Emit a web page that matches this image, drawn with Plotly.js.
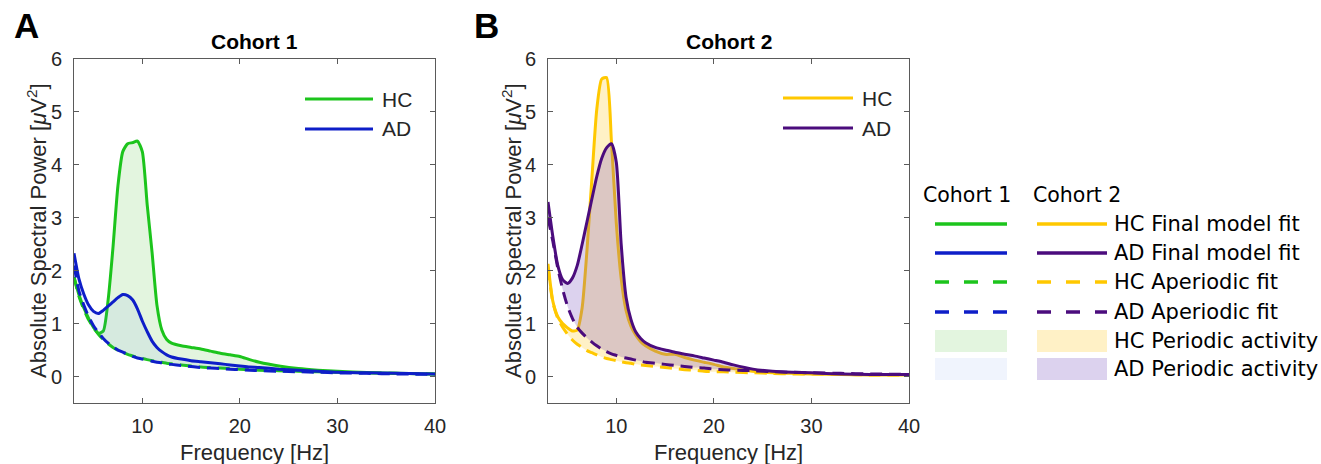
<!DOCTYPE html>
<html>
<head>
<meta charset="utf-8">
<script src="https://cdn.plot.ly/plotly-3.0.1.min.js"></script>
<style>html,body{margin:0;padding:0;background:#fff;}#chart{width:1321px;height:464px;}</style>
</head>
<body>
<div id="chart"></div>
<script>
// ---------------- data ----------------
const freq = [3, 3.5, 4, 4.5, 5, 5.5, 6, 6.5, 7, 7.5, 8, 8.5, 9, 9.5, 10, 10.5, 11, 11.5, 12, 12.5, 13, 14, 15, 16, 17, 18, 19, 20, 21, 22, 24, 26, 28, 30, 33, 36, 40];

// Cohort 1
const c1_HC_final = [1.88, 1.55, 1.30, 1.10, 0.93, 0.82, 0.86, 1.45, 2.45, 3.60, 4.25, 4.40, 4.42, 4.45, 4.25, 3.25, 2.35, 1.35, 0.88, 0.70, 0.63, 0.58, 0.55, 0.52, 0.48, 0.44, 0.41, 0.38, 0.32, 0.27, 0.20, 0.15, 0.12, 0.10, 0.075, 0.06, 0.05];
const c1_AD_final = [2.33, 1.85, 1.56, 1.35, 1.23, 1.19, 1.25, 1.33, 1.41, 1.49, 1.55, 1.53, 1.45, 1.28, 1.05, 0.85, 0.67, 0.55, 0.47, 0.41, 0.37, 0.33, 0.30, 0.28, 0.26, 0.24, 0.22, 0.20, 0.18, 0.17, 0.14, 0.12, 0.10, 0.08, 0.07, 0.06, 0.05];
const c1_HC_aper = [1.88, 1.52, 1.27, 1.07, 0.92, 0.80, 0.70, 0.62, 0.55, 0.50, 0.46, 0.42, 0.39, 0.36, 0.34, 0.32, 0.30, 0.28, 0.27, 0.25, 0.24, 0.22, 0.20, 0.18, 0.17, 0.16, 0.15, 0.14, 0.13, 0.12, 0.11, 0.10, 0.09, 0.08, 0.07, 0.06, 0.05];
const c1_AD_aper = [2.10, 1.62, 1.35, 1.13, 0.96, 0.83, 0.72, 0.63, 0.56, 0.50, 0.46, 0.42, 0.38, 0.35, 0.33, 0.31, 0.29, 0.27, 0.26, 0.24, 0.23, 0.21, 0.19, 0.17, 0.16, 0.15, 0.14, 0.13, 0.12, 0.11, 0.10, 0.09, 0.08, 0.07, 0.06, 0.05, 0.04];

// Cohort 2
const c2_HC_final = [2.13, 1.42, 1.13, 1.00, 0.92, 0.86, 0.88, 1.30, 2.40, 3.75, 5.05, 5.62, 5.65, 4.45, 2.90, 1.85, 1.25, 0.95, 0.78, 0.66, 0.58, 0.48, 0.42, 0.42, 0.36, 0.31, 0.27, 0.23, 0.18, 0.15, 0.10, 0.07, 0.06, 0.05, 0.04, 0.03, 0.03];
const c2_AD_final = [3.30, 2.64, 2.10, 1.83, 1.76, 1.86, 2.10, 2.50, 2.93, 3.36, 3.78, 4.12, 4.32, 4.40, 4.05, 2.50, 1.50, 1.08, 0.84, 0.72, 0.64, 0.55, 0.50, 0.46, 0.42, 0.39, 0.35, 0.31, 0.27, 0.22, 0.14, 0.10, 0.08, 0.07, 0.05, 0.04, 0.04];
const c2_HC_aper = [2.05, 1.40, 1.10, 0.93, 0.80, 0.69, 0.61, 0.55, 0.49, 0.45, 0.41, 0.37, 0.34, 0.32, 0.30, 0.28, 0.26, 0.25, 0.23, 0.22, 0.21, 0.19, 0.17, 0.15, 0.13, 0.12, 0.10, 0.09, 0.09, 0.08, 0.07, 0.06, 0.05, 0.05, 0.04, 0.03, 0.03];
const c2_AD_aper = [3.00, 2.55, 2.05, 1.65, 1.33, 1.10, 0.93, 0.82, 0.73, 0.65, 0.58, 0.52, 0.47, 0.43, 0.40, 0.37, 0.35, 0.33, 0.31, 0.29, 0.27, 0.25, 0.23, 0.21, 0.19, 0.17, 0.16, 0.14, 0.13, 0.12, 0.11, 0.09, 0.08, 0.07, 0.06, 0.05, 0.04];

const xTicks = [10, 20, 30, 40];
const yTicks = [0, 1, 2, 3, 4, 5, 6];
const panelTitles = ["Cohort 1", "Cohort 2"];
const panelLetters = ["A", "B"];
const groupNames = ["HC", "AD"];
const legendItems = ["HC Final model fit", "AD Final model fit", "HC Aperiodic fit", "AD Aperiodic fit", "HC Periodic activity", "AD Periodic activity"];

// ---------------- styles ----------------
const W = 1321, H = 464;
const px = x => x / W;
const py = y => 1 - y / H;

const col = {
  c1HC: "rgb(28,196,28)", c1AD: "rgb(14,30,200)",
  c2HC: "rgb(255,200,0)", c2AD: "rgb(75,12,125)",
  f1HC: "rgba(70,190,40,0.15)", f1AD: "rgba(90,130,230,0.09)",
  f2HC: "rgba(255,205,50,0.28)", f2AD: "rgba(120,80,190,0.26)"
};
const LW = 3;
const DASH = "12px,7px";

function panelTraces(xa, ya, hcAper, hcFinal, adAper, adFinal, cHC, cAD, fHC, fAD) {
  const common = {x: freq, xaxis: xa, yaxis: ya, mode: "lines", showlegend: false, hoverinfo: "skip"};
  return [
    Object.assign({}, common, {y: hcAper, line: {color: cHC, width: LW, dash: DASH, shape: "spline", smoothing: 0.6}}),
    Object.assign({}, common, {y: hcFinal, fill: "tonexty", fillcolor: fHC, line: {color: cHC, width: LW, shape: "spline", smoothing: 0.6}}),
    Object.assign({}, common, {y: adAper, line: {color: cAD, width: LW, dash: DASH, shape: "spline", smoothing: 0.6}}),
    Object.assign({}, common, {y: adFinal, fill: "tonexty", fillcolor: fAD, line: {color: cAD, width: LW, shape: "spline", smoothing: 0.6}})
  ];
}

const data = [].concat(
  panelTraces("x", "y", c1_HC_aper, c1_HC_final, c1_AD_aper, c1_AD_final, col.c1HC, col.c1AD, col.f1HC, col.f1AD),
  panelTraces("x2", "y2", c2_HC_aper, c2_HC_final, c2_AD_aper, c2_AD_final, col.c2HC, col.c2AD, col.f2HC, col.f2AD)
);

const fontFam = "Liberation Sans, Arial, sans-serif";
const axColor = "#5a5a5a";
function xax(domain, anchor) {
  return {domain: domain, anchor: anchor, range: [3, 40], tickvals: xTicks, ticks: "inside", ticklen: 5,
    tickcolor: axColor, showline: true, linecolor: axColor, linewidth: 1, mirror: "ticks", showgrid: false, zeroline: false,
    tickfont: {family: fontFam, size: 20, color: "#262626"}, ticklabelstandoff: 5, fixedrange: true};
}
function yax(domain, anchor) {
  return {domain: domain, anchor: anchor, range: [-0.5, 6], tickvals: yTicks, ticks: "inside", ticklen: 5,
    tickcolor: axColor, showline: true, linecolor: axColor, linewidth: 1, mirror: "ticks", showgrid: false, zeroline: false,
    tickfont: {family: fontFam, size: 20, color: "#262626"}, ticklabelstandoff: 7, fixedrange: true};
}

const yDom = [py(403), py(59)];
const panels = [
  {left: 74, right: 435, ytitleX: 37, letterX: 26, legLine: [305, 373], legText: 380, legY: [99, 129], cols: [col.c1HC, col.c1AD]},
  {left: 548, right: 909, ytitleX: 512, letterX: 486, legLine: [783, 853], legText: 860, legY: [98, 128], cols: [col.c2HC, col.c2AD]}
];

const annotations = [];
const shapes = [];
panels.forEach((p, i) => {
  const mid = (p.left + p.right) / 2;
  annotations.push({xref: "paper", yref: "paper", x: px(mid), y: py(41), text: "<b>" + panelTitles[i] + "</b>", showarrow: false,
    font: {family: fontFam, size: 21, color: "#000"}, xanchor: "center", yanchor: "middle"});
  annotations.push({xref: "paper", yref: "paper", x: px(p.letterX), y: py(25), text: "<b>" + panelLetters[i] + "</b>", showarrow: false,
    font: {family: fontFam, size: 35, color: "#000"}, xanchor: "center", yanchor: "middle"});
  annotations.push({xref: "paper", yref: "paper", x: px(p.ytitleX), y: py(231), text: "Absolute Spectral Power [<i>μ</i>V<sup>2</sup>]", showarrow: false,
    textangle: -90, font: {family: fontFam, size: 22, color: "#262626"}, xanchor: "center", yanchor: "middle"});
  annotations.push({xref: "paper", yref: "paper", x: px(mid), y: py(452), text: "Frequency [Hz]", showarrow: false,
    font: {family: fontFam, size: 22, color: "#262626"}, xanchor: "center", yanchor: "middle"});
  groupNames.forEach((g, k) => {
    shapes.push({type: "line", xref: "paper", yref: "paper", x0: px(p.legLine[0]), x1: px(p.legLine[1]), y0: py(p.legY[k]), y1: py(p.legY[k]),
      line: {color: p.cols[k], width: LW}});
    annotations.push({xref: "paper", yref: "paper", x: px(p.legText), y: py(p.legY[k]), text: g, showarrow: false,
      font: {family: fontFam, size: 21, color: "#262626"}, xanchor: "left", yanchor: "middle"});
  });
});

// right-hand legend
const legFont = "DejaVu Sans, Verdana, sans-serif";
annotations.push({xref: "paper", yref: "paper", x: px(967), y: py(195), text: "Cohort 1", showarrow: false,
  font: {family: legFont, size: 20.5, color: "#000"}, xanchor: "center", yanchor: "middle"});
annotations.push({xref: "paper", yref: "paper", x: px(1077), y: py(195), text: "Cohort 2", showarrow: false,
  font: {family: legFont, size: 20.5, color: "#000"}, xanchor: "center", yanchor: "middle"});
const rowY = [224, 253, 282, 312, 341, 369];
const colX = [[935, 1007], [1037, 1107]];
const rowStyle = [
  [{c: col.c1HC, d: "solid"}, {c: col.c2HC, d: "solid"}],
  [{c: col.c1AD, d: "solid"}, {c: col.c2AD, d: "solid"}],
  [{c: col.c1HC, d: "dash"}, {c: col.c2HC, d: "dash"}],
  [{c: col.c1AD, d: "dash"}, {c: col.c2AD, d: "dash"}],
  [{f: col.f1HC}, {f: col.f2HC}],
  [{f: col.f1AD}, {f: col.f2AD}]
];
legendItems.forEach((t, r) => {
  annotations.push({xref: "paper", yref: "paper", x: px(1112), y: py(rowY[r]), text: t, showarrow: false,
    font: {family: legFont, size: 21, color: "#000"}, xanchor: "left", yanchor: "middle"});
  rowStyle[r].forEach((s, c) => {
    if (s.f) {
      shapes.push({type: "rect", xref: "paper", yref: "paper", x0: px(colX[c][0]), x1: px(colX[c][1]), y0: py(rowY[r] + 11), y1: py(rowY[r] - 11),
        fillcolor: s.f, line: {width: 0}});
    } else {
      shapes.push({type: "line", xref: "paper", yref: "paper", x0: px(colX[c][0]), x1: px(colX[c][1]), y0: py(rowY[r]), y1: py(rowY[r]),
        line: {color: s.c, width: LW + 0.5, dash: s.d === "dash" ? "14px,15px" : "solid"}});
    }
  });
});

const layout = {
  width: W, height: H, margin: {l: 0, r: 0, t: 0, b: 0},
  paper_bgcolor: "#fff", plot_bgcolor: "#fff", showlegend: false,
  xaxis: xax([px(74), px(435)], "y"), yaxis: yax(yDom, "x"),
  xaxis2: xax([px(548), px(909)], "y2"), yaxis2: yax(yDom, "x2"),
  annotations: annotations, shapes: shapes
};

Plotly.newPlot("chart", data, layout, {displayModeBar: false, staticPlot: true});
</script>
</body>
</html>
